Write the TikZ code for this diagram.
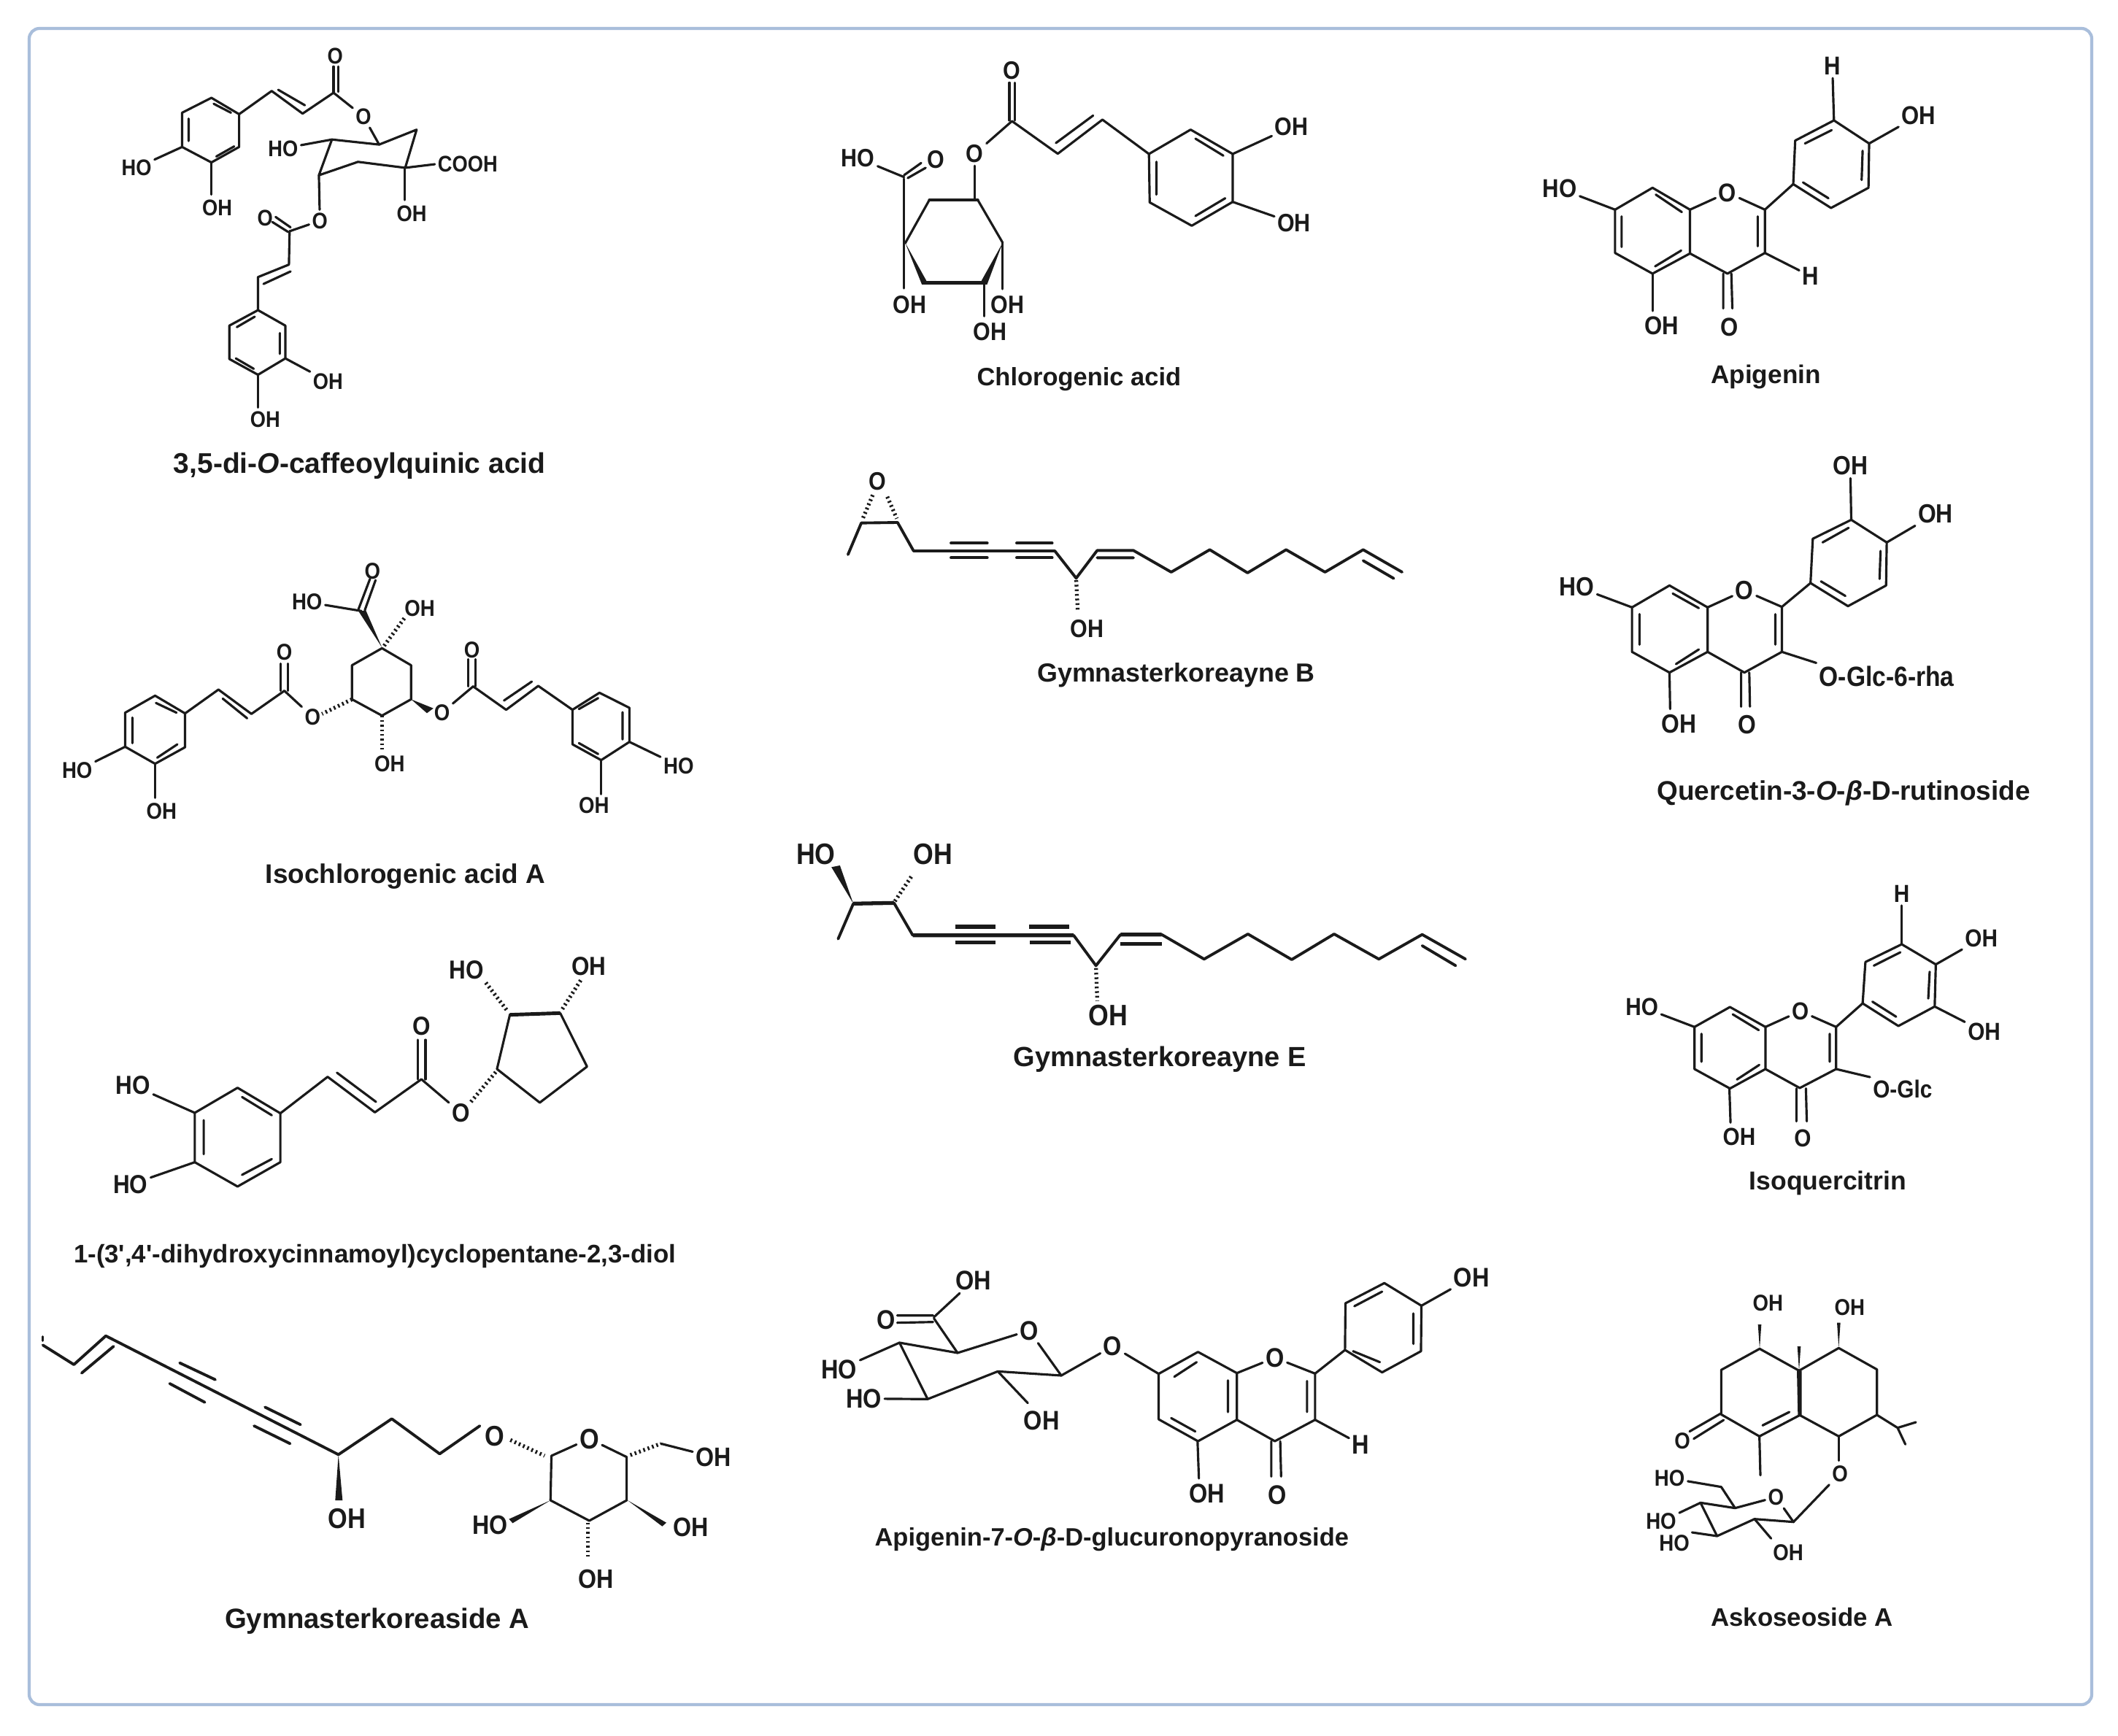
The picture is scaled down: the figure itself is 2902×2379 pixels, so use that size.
\documentclass[tikz,border=0pt]{standalone}
\usepackage{xcolor}
\usepackage{fontspec}
\setmainfont{Liberation Sans}
\newfontfamily\atomfont[FakeStretch=0.88,Scale=1.13]{Liberation Sans}
\definecolor{framecol}{HTML}{A9BEDB}
\definecolor{inkcol}{HTML}{1A1A1A}
\tikzset{
  mol/.style n args={5}{shift={(#1,#2)},x={0.01cm/#3},y={-0.01cm/#4},
    every node/.style={font=\atomfont\bfseries\fontsize{#5}{#5}\selectfont,inner sep=1pt,text=inkcol}},
  capt/.style={font=\normalfont\bfseries\fontsize{#1}{#1}\selectfont,inner sep=0pt},
  bond/.style={draw=inkcol,line width=0.9pt,line cap=round,line join=round},
  heavy/.style={draw=inkcol,line width=1.1pt,line cap=round,line join=round},
  hash/.style={draw=inkcol,line width=1.5pt,dash pattern=on 0.7pt off 1.1pt},
  wedgefill/.style={fill=inkcol}
}
\begin{document}
\begin{tikzpicture}[x=0.01cm,y=-0.01cm]
  \useasboundingbox (0,0) rectangle (2902,2379);
  \fill[white] (0,0) rectangle (2902,2379);
  \draw[framecol,line width=1.2pt,rounded corners=4pt] (40,39) rectangle (2866,2336);

  \begin{scope}[mol={100}{30}{2.24}{2.45}{7.8}]
    \node (ao1) at (805,115) {O};
    \node (ao2) at (892,318) {O};
    \node (aho1) at (195,490) {HO};
    \node (aoh1) at (443,625) {OH};
    \node (aho2) at (645,425) {HO};
    \node (acooh) at (1212,478) {COOH};
    \node (aoh2) at (1040,645) {OH};
    \node (ao3) at (758,668) {O};
    \node (ao4) at (590,660) {O};
    \node (aoh3) at (783,1207) {OH};
    \node (aoh4) at (590,1335) {OH};
    \draw[bond] (425,255) -- (510,310) -- (510,420) -- (425,472) -- (335,420) -- (335,305) -- cycle;
    \draw[bond] (432,275) -- (485,305) (355,325) -- (355,400) (440,452) -- (495,418);
    \draw[bond] (510,310) -- (610,232) -- (705,308) -- (800,238) (630,228) -- (712,280);
    \draw[bond] (800,238) -- (800,150) (815,235) -- (815,150);
    \draw[bond] (800,238) -- (ao2) (ao2) -- (940,412);
    \draw[bond] (940,412) -- (1055,362) -- (1020,490) -- (875,470) -- (755,515) -- (795,395) -- cycle;
    \draw[bond] (795,395) -- (aho2);
    \draw[bond] (1020,490) -- (acooh.west);
    \draw[bond] (1018,490) -- (1018,598);
    \draw[bond] (755,515) -- (ao3) (ao3) -- (665,703);
    \draw[bond] (612,672) -- (660,705) (622,655) -- (668,690);
    \draw[bond] (665,703) -- (663,815) -- (568,857) -- (568,968) (585,880) -- (668,838);
    \draw[bond] (568,968) -- (652,1020) -- (652,1130) -- (568,1185) -- (480,1132) -- (480,1020) -- cycle;
    \draw[bond] (503,1025) -- (558,990) (635,1045) -- (635,1115) (500,1130) -- (555,1165);
    \draw[bond] (652,1130) -- (aoh3);
    \draw[bond] (568,1185) -- (568,1295);
    \draw[bond] (335,420) -- (aho1);
    \draw[bond] (425,472) -- (425,580);
    \node[capt=11.1] (acap) at (880,1492) {3,5-di-\textit{O}-caffeoylquinic acid};
  \end{scope}

  \begin{scope}[mol={1100}{50}{1.96}{3}{8.7}]
    \node (bo1) at (562,140) {O};
    \node (bo2) at (462,482) {O};
    \node (bho) at (148,500) {HO};
    \node (bo3) at (357,505) {O};
    \node (boh1) at (287,1103) {OH};
    \node (boh2) at (550,1103) {OH};
    \node (boh3) at (503,1215) {OH};
    \node (boh4) at (1313,372) {OH};
    \node (boh5) at (1320,768) {OH};
    \draw[bond] (555,190) -- (555,345) (570,190) -- (570,345);
    \draw[bond] (bo2) -- (562,348) -- (685,482) -- (805,342) -- (930,483) (680,438) -- (780,325);
    \draw[bond] (bo2) -- (462,668);
    \draw[bond] (275,850) -- (340,672) (470,672) -- (537,848);
    \draw[heavy] (340,672) -- (470,672);
    \fill[wedgefill] (275,848) -- (320,1020) -- (332,1004) -- cycle;
    \fill[wedgefill] (537,848) -- (495,1020) -- (480,1004) -- cycle;
    \fill[wedgefill] (320,1004) rectangle (495,1020);
    \draw[bond] (272,585) -- (272,1035);
    \draw[bond] (537,848) -- (537,1038);
    \draw[bond] (487,1010) -- (487,1150);
    \draw[bond] (bho) -- (272,578);
    \draw[bond] (272,570) -- (318,520) (282,582) -- (330,540);
    \draw[bond] (930,483) -- (1042,383) -- (1155,483) -- (1155,680) -- (1045,778) -- (932,682) -- cycle;
    \draw[bond] (1055,420) -- (1130,490) (950,515) -- (950,650) (1055,738) -- (1135,665);
    \draw[bond] (1155,483) -- (boh4);
    \draw[bond] (1155,680) -- (boh5);
    \node[capt=9.8] (bcap) at (742,1410) {Chlorogenic acid};
  \end{scope}

  \begin{scope}[mol={2050}{50}{2.24}{3}{8.9}]
    \node (ch1) at (1032,122) {H};
    \node (coh1) at (1297,325) {OH};
    \node (co1) at (710,642) {O};
    \node (cho) at (195,625) {HO};
    \node (ch2) at (965,985) {H};
    \node (co2) at (717,1195) {O};
    \node (coh2) at (508,1188) {OH};
    \draw[bond] (ch1) -- (1037,345);
    \draw[bond] (1037,345) -- (1145,440) -- (1143,622) -- (1028,705) -- (912,607) -- (918,428) -- cycle;
    \draw[bond] (948,440) -- (1030,385) (1125,470) -- (1122,590) (942,600) -- (1020,665);
    \draw[bond] (1145,440) -- (coh1);
    \draw[bond] (825,712) -- (912,607);
    \draw[bond] (co1) -- (825,712) -- (825,890) -- (710,975) -- (595,892) -- (595,712) -- (co1);
    \draw[bond] (595,712) -- (480,622) -- (365,712) -- (365,890) -- (480,975) -- (595,892);
    \draw[bond] (803,740) -- (803,862) (490,650) -- (570,722) (385,740) -- (385,865) (488,945) -- (568,880);
    \draw[bond] (cho) -- (365,712);
    \draw[bond] (825,890) -- (ch2);
    \draw[bond] (697,975) -- (697,1118) (722,975) -- (725,1118);
    \draw[bond] (480,975) -- (480,1128);
    \node[capt=10] (ccap) at (828,1398) {Apigenin};
  \end{scope}

  \begin{scope}[mol={60}{750}{1.704}{3}{7.9}]
    \node (do1) at (768,97) {O};
    \node (dho1) at (615,225) {HO};
    \node (doh1) at (878,250) {OH};
    \node (do2) at (930,680) {O};
    \node (do3) at (1000,422) {O};
    \node (dho2) at (1483,898) {HO};
    \node (doh2) at (1285,1062) {OH};
    \node (do4) at (628,697) {O};
    \node (do5) at (562,432) {O};
    \node (dho3) at (78,918) {HO};
    \node (doh3) at (275,1085) {OH};
    \node (doh4) at (808,890) {OH};
    \draw[bond] (735,255) -- (762,130) (750,258) -- (775,135);
    \draw[bond] (dho1) -- (742,262);
    \fill[wedgefill] (790,412) -- (736,265) -- (752,258) -- cycle;
    \draw[hash] (795,405) -- (845,285);
    \draw[bond] (790,415) -- (858,485) -- (858,625) -- (790,692) -- (720,625) -- (720,485) -- cycle;
    \fill[wedgefill] (858,625) -- (910,662) -- (895,682) -- cycle;
    \draw[bond] (do2) -- (1003,572);
    \draw[bond] (992,572) -- (992,460) (1008,572) -- (1008,460);
    \draw[bond] (1003,572) -- (1080,668) -- (1155,570) -- (1235,668) (1075,630) -- (1140,552);
    \draw[bond] (1235,668) -- (1298,598) -- (1368,660) -- (1368,800) -- (1302,875) -- (1235,810) -- cycle;
    \draw[bond] (1250,665) -- (1295,620) (1352,678) -- (1352,790) (1250,805) -- (1295,850);
    \draw[bond] (1368,800) -- (dho2);
    \draw[bond] (1302,875) -- (1302,1015);
    \draw[hash] (720,625) -- (650,685);
    \draw[bond] (do4) -- (562,590);
    \draw[bond] (553,590) -- (553,478) (570,590) -- (570,478);
    \draw[bond] (562,590) -- (485,685) -- (408,585) -- (330,683) (418,622) -- (475,703);
    \draw[bond] (330,683) -- (260,610) -- (190,680) -- (190,820) -- (260,890) -- (330,822) -- cycle;
    \draw[bond] (262,640) -- (310,680) (207,700) -- (207,805) (265,865) -- (312,810);
    \draw[bond] (190,820) -- (dho3);
    \draw[bond] (260,890) -- (260,1030);
    \draw[hash] (790,692) -- (790,830);
    \node[capt=10.5] (dcap) at (845,1353) {Isochlorogenic acid A};
  \end{scope}

  \begin{scope}[mol={1120}{620}{1.912}{3}{8.7}]
    \node (eo) at (158,120) {O};
    \node (eoh) at (707,725) {OH};
    \draw[hash] (145,175) -- (118,275) (183,182) -- (208,272);
    \draw[heavy] (80,420) -- (115,290) -- (210,288) -- (252,405) -- (622,405) -- (678,517) -- (733,403) -- (828,403) -- (927,492) -- (1028,400) -- (1127,495) -- (1228,400) -- (1330,492) -- (1430,400) -- (1532,492);
    \draw[heavy] (350,373) -- (445,373) (350,433) -- (445,433) (522,373) -- (615,373) (522,433) -- (615,433);
    \draw[heavy] (733,433) -- (828,433) (1430,445) -- (1510,518);
    \draw[hash] (678,525) -- (682,650);
    \node[capt=10.2] (ecap) at (940,916) {Gymnasterkoreayne B};
  \end{scope}

  \begin{scope}[mol={2100}{600}{2.24}{3}{9.1}]
    \node (foh1) at (975,115) {OH};
    \node (foh2) at (1237,312) {OH};
    \node (fo1) at (650,628) {O};
    \node (fho) at (135,612) {HO};
    \node[font=\atomfont\bfseries\fontsize{9.6}{9.6}\selectfont] (fglc) at (1087,980) {O-Glc-6-rha};
    \node (fo2) at (658,1180) {O};
    \node (foh3) at (450,1177) {OH};
    \draw[bond] (foh1) -- (978,337);
    \draw[bond] (1087,430) -- (foh2);
    \draw[bond] (978,337) -- (1087,430) -- (1085,607) -- (968,692) -- (853,597) -- (860,415) -- cycle;
    \draw[bond] (890,430) -- (970,370) (1068,465) -- (1065,580) (885,590) -- (960,650);
    \draw[bond] (765,695) -- (853,597);
    \draw[bond] (fo1) -- (765,695) -- (765,880) -- (650,965) -- (537,880) -- (537,697) -- (fo1);
    \draw[bond] (537,697) -- (420,607) -- (305,697) -- (305,880) -- (420,965) -- (537,880);
    \draw[bond] (745,725) -- (745,850) (430,640) -- (510,700) (328,725) -- (328,850) (440,930) -- (510,870);
    \draw[bond] (fho) -- (305,697);
    \draw[bond] (765,880) -- (fglc.north west);
    \draw[bond] (640,965) -- (640,1105) (665,965) -- (667,1105);
    \draw[bond] (420,965) -- (422,1115);
    \node[capt=10.5] (fcap) at (955,1460) {Quercetin-3-\textit{O}-\textit{β}-D-rutinoside};
  \end{scope}

  \begin{scope}[mol={120}{1280}{1.96}{3}{9}]
    \node (gho1) at (122,622) {HO};
    \node (gho2) at (115,1030) {HO};
    \node (go1) at (897,380) {O};
    \node (go2) at (1003,735) {O};
    \node (gho3) at (1018,148) {HO};
    \node (goh) at (1347,132) {OH};
    \draw[bond] (gho1) -- (288,735);
    \draw[bond] (gho2) -- (288,938);
    \draw[bond] (403,632) -- (518,737) -- (518,938) -- (403,1038) -- (288,938) -- (288,735) -- cycle;
    \draw[bond] (415,670) -- (495,745) (312,765) -- (312,905) (415,990) -- (495,925);
    \draw[bond] (518,737) -- (645,587) -- (772,733) -- (897,597) -- (go2) (670,570) -- (775,690);
    \draw[bond] (888,597) -- (888,435) (908,597) -- (908,435);
    \draw[hash] (1030,690) -- (1098,565);
    \draw[bond] (1135,330) -- (1100,555) -- (1215,693) -- (1342,545) -- (1270,325);
    \draw[draw=inkcol,line width=1.4pt] (1135,332) -- (1270,325);
    \draw[hash] (1070,200) -- (1130,320);
    \draw[hash] (1325,190) -- (1275,310);
    \node[capt=9.9] (gcap) at (772,1324) {1-(3\textquotesingle,4\textquotesingle-dihydroxycinnamoyl)cyclopentane-2,3-diol};
  \end{scope}

  \begin{scope}[mol={1070}{1130}{1.633}{3}{10.2}]
    \node (hho) at (78,122) {HO};
    \node (hoh1) at (340,122) {OH};
    \node (hoh2) at (732,785) {OH};
    \fill[wedgefill] (162,325) -- (113,175) -- (132,168) -- cycle;
    \draw[hash] (255,315) -- (295,205);
    \draw[heavy] (128,470) -- (162,325) (253,322) -- (295,455) (655,455) -- (705,580) -- (760,452) (852,452) -- (947,553) -- (1045,450) -- (1143,555) -- (1238,450) -- (1338,553) -- (1435,452) -- (1532,553);
    \draw[draw=inkcol,line width=1.5pt] (162,325) -- (253,322) (295,455) -- (655,455) (760,452) -- (852,452);
    \draw[draw=inkcol,line width=1.5pt] (390,420) -- (480,420) (390,485) -- (480,485) (555,420) -- (645,420) (557,485) -- (648,485) (760,490) -- (853,490);
    \draw[heavy] (1435,498) -- (1510,580);
    \draw[hash] (705,590) -- (708,725);
    \node[capt=10.8] (hcap) at (848,965) {Gymnasterkoreayne E};
  \end{scope}

  \begin{scope}[mol={2200}{1190}{2.613}{3}{8.5}]
    \node (ih) at (1060,105) {H};
    \node (ioh1) at (1345,288) {OH};
    \node (ioh2) at (1355,672) {OH};
    \node (io1) at (697,587) {O};
    \node (iho) at (130,570) {HO};
    \node (iglc) at (1063,908) {O-Glc};
    \node (io2) at (705,1110) {O};
    \node (ioh3) at (478,1103) {OH};
    \draw[bond] (ih) -- (1060,312);
    \draw[bond] (1060,312) -- (1182,395) -- (1178,568) -- (1048,648) -- (920,555) -- (930,385) -- cycle;
    \draw[bond] (960,400) -- (1055,345) (1160,425) -- (1155,535) (955,548) -- (1040,610);
    \draw[bond] (1182,395) -- (ioh1);
    \draw[bond] (1178,568) -- (ioh2);
    \draw[bond] (825,652) -- (920,555);
    \draw[bond] (io1) -- (825,652) -- (825,825) -- (695,903) -- (572,825) -- (572,652) -- (io1);
    \draw[bond] (572,652) -- (445,570) -- (318,652) -- (318,825) -- (445,905) -- (572,825);
    \draw[bond] (802,680) -- (802,795) (455,600) -- (548,665) (343,680) -- (343,795) (470,868) -- (550,808);
    \draw[bond] (iho) -- (318,652);
    \draw[bond] (825,825) -- (iglc.north west);
    \draw[bond] (683,905) -- (683,1040) (717,905) -- (720,1040);
    \draw[bond] (443,905) -- (447,1045);
    \node[capt=10.1] (icap) at (795,1293) {Isoquercitrin};
  \end{scope}

  \begin{scope}[mol={40}{1800}{1.6}{3}{9.8}]
    \node (joh1) at (697,843) {OH};
    \node (jo1) at (1020,503) {O};
    \node (jo2) at (1228,515) {O};
    \node[font=\atomfont\bfseries\fontsize{9.2}{9.2}\selectfont] (jho) at (1010,870) {HO};
    \node[font=\atomfont\bfseries\fontsize{9.2}{9.2}\selectfont] (joh2) at (1450,878) {OH};
    \node[font=\atomfont\bfseries\fontsize{9.2}{9.2}\selectfont] (joh3) at (1243,1093) {OH};
    \node[font=\atomfont\bfseries\fontsize{9.2}{9.2}\selectfont] (joh4) at (1500,590) {OH};
    \draw[bond] (30,95) -- (30,112);
    \draw[heavy] (30,130) -- (98,210) -- (168,92) -- (678,580) -- (795,433) -- (900,577) -- (988,462);
    \draw[heavy] (115,245) -- (185,135);
    \draw[heavy] (330,203) -- (408,272) (308,288) -- (385,365) (517,385) -- (595,457) (493,462) -- (572,535);
    \fill[wedgefill] (678,580) -- (671,768) -- (687,768) -- cycle;
    \draw[hash] (1055,520) -- (1130,585);
    \draw[bond] (jo2) -- (1145,585) -- (1143,768) -- (1228,852) -- (1310,768) -- (1310,590) -- (jo2);
    \fill[wedgefill] (1143,768) -- (1052,845) -- (1060,862) -- cycle;
    \fill[wedgefill] (1312,768) -- (1397,860) -- (1388,875) -- cycle;
    \draw[hash] (1225,860) -- (1225,1010);
    \draw[hash] (1318,582) -- (1385,535);
    \draw[bond] (1385,535) -- (joh4);
    \node[capt=10.9] (jcap) at (763,1265) {Gymnasterkoreaside A};
  \end{scope}

  \begin{scope}[mol={1110}{1710}{1.633}{3}{9.3}]
    \node (koh1) at (365,135) {OH};
    \node (ko1) at (170,295) {O};
    \node (ko2) at (490,340) {O};
    \node (kho1) at (65,500) {HO};
    \node (kho2) at (120,620) {HO};
    \node (koh2) at (518,710) {OH};
    \node (ko3) at (677,405) {O};
    \node (ko4) at (1040,452) {O};
    \node (koh3) at (1480,122) {OH};
    \node (kh) at (1232,808) {H};
    \node (ko5) at (1045,1015) {O};
    \node (koh4) at (888,1010) {OH};
    \draw[bond] (koh1) -- (277,285);
    \draw[bond] (195,278) -- (275,278) (195,308) -- (275,305);
    \draw[bond] (277,290) -- (330,432) -- (ko2) (ko2) -- (562,525);
    \draw[bond] (330,432) -- (200,390) -- (263,622) -- (420,508) -- (562,525);
    \draw[bond] (kho1) -- (200,390);
    \draw[bond] (kho2) -- (263,622);
    \draw[bond] (420,508) -- (487,638);
    \draw[bond] (562,525) -- (ko3) (ko3) -- (780,518);
    \draw[bond] (780,518) -- (868,428) -- (955,515) -- (955,707) -- (868,795) -- (780,705) -- cycle;
    \draw[bond] (ko4) -- (955,515) (ko4) -- (1130,517) -- (1130,707) -- (1040,795) -- (955,707);
    \draw[bond] (815,530) -- (865,470) (935,545) -- (935,675) (808,700) -- (862,755) (1112,548) -- (1112,675);
    \draw[bond] (1130,517) -- (1197,420);
    \draw[bond] (1197,420) -- (1198,228) -- (1285,145) -- (1368,238) -- (1367,425) -- (1280,512) -- cycle;
    \draw[bond] (1218,240) -- (1280,180) (1350,270) -- (1350,395) (1215,425) -- (1275,470);
    \draw[bond] (1368,238) -- (koh3);
    \draw[bond] (1130,707) -- (kh);
    \draw[bond] (1032,795) -- (1032,940) (1052,795) -- (1054,940);
    \draw[bond] (867,795) -- (870,948);
    \node[capt=9.8] (kcap) at (675,1200) {Apigenin-7-\textit{O}-\textit{β}-D-glucuronopyranoside};
  \end{scope}

  \begin{scope}[mol={2220}{1740}{3}{3}{7.9}]
    \node (loh1) at (607,138) {OH};
    \node (loh2) at (943,155) {OH};
    \node (lo1) at (255,705) {O};
    \node (lo2) at (903,838) {O};
    \node (lo3) at (640,935) {O};
    \node (lho1) at (203,857) {HO};
    \node (lho2) at (168,1035) {HO};
    \node (lho3) at (222,1125) {HO};
    \node (loh3) at (690,1162) {OH};
    \fill[wedgefill] (573,325) -- (566,225) -- (580,225) -- cycle;
    \fill[wedgefill] (898,320) -- (891,218) -- (905,218) -- cycle;
    \draw[bond] (735,415) -- (573,325) -- (415,412) -- (415,595) -- (572,685) -- (738,598);
    \draw[bond] (735,415) -- (898,322) -- (1055,410) -- (1055,597) -- (898,685) -- (738,598);
    \fill[wedgefill] (726,415) -- (746,415) -- (746,598) -- (730,598) -- cycle;
    \fill[wedgefill] (735,415) -- (728,315) -- (742,315) -- cycle;
    \draw[bond] (585,640) -- (695,585);
    \draw[bond] (415,590) -- (285,665) (425,618) -- (302,695);
    \draw[bond] (572,685) -- (576,845);
    \draw[bond] (1055,597) -- (1140,650) -- (1215,627) (1140,650) -- (1172,718);
    \draw[bond] (898,685) -- (898,785);
    \draw[bond] (lo2) -- (712,1037) -- (lo3);
    \draw[bond] (lo3) -- (472,980) -- (330,958) -- (398,1095) -- (552,1025) -- (712,1037);
    \draw[bond] (472,980) -- (415,893) -- (lho1);
    \draw[bond] (330,958) -- (lho2);
    \draw[bond] (398,1095) -- (295,1080);
    \draw[bond] (552,1025) -- (620,1105);
    \node[capt=9.9] (lcap) at (747,1429) {Askoseoside A};
  \end{scope}
\end{tikzpicture}
\end{document}
